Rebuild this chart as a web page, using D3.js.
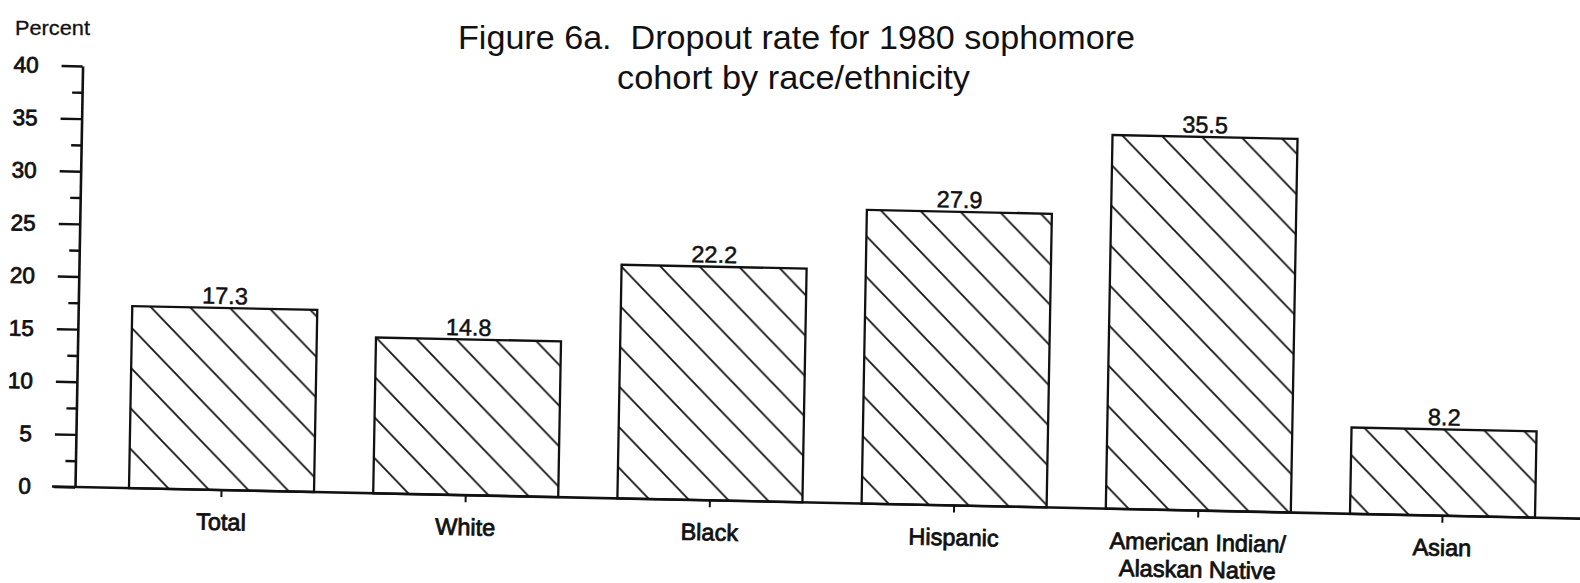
<!DOCTYPE html>
<html>
<head>
<meta charset="utf-8">
<script src="https://cdn.jsdelivr.net/npm/d3@7"></script>
<style>
  html, body { margin: 0; padding: 0; background: #fff; }
  svg { display: block; font-family: "Liberation Sans", Arial, Helvetica, sans-serif; }
  text { fill: #111; white-space: pre; }
</style>
</head>
<body>
<svg id="chart" width="1580" height="583"></svg>
<script>
// ---- data ----
const categories = ["Total", "White", "Black", "Hispanic", "American Indian/\nAlaskan Native", "Asian"];
const values = [17.3, 14.8, 22.2, 27.9, 35.5, 8.2];
const majorTicks = [0, 5, 10, 15, 20, 25, 30, 35, 40];
const minorTicks = [2.5, 7.5, 12.5, 17.5, 22.5, 27.5, 32.5, 37.5];
const titleLines = ["Figure 6a.  Dropout rate for 1980 sophomore", "cohort by race/ethnicity"];
const yAxisTitle = "Percent";

// ---- layout ----
const W = 1580, H = 583;
const svg = d3.select("#chart");
const ink = "#111";

// the scanned figure is slightly rotated/sheared; draw chart in a local frame
const tiltB = 0.021, tiltC = -0.018;
const g = svg.append("g")
  .attr("transform", `translate(75,487) matrix(1,${tiltB},${tiltC},1,0,0)`);

const y = d3.scaleLinear().domain([0, 40]).range([0, -421]);
const x = d3.scaleBand().domain(categories).range([54, 1460]).paddingInner(0.2424).paddingOuter(0);

// hatch pattern
const defs = svg.append("defs");
const pat = defs.append("pattern")
  .attr("id", "hatch")
  .attr("patternUnits", "userSpaceOnUse")
  .attr("width", 40).attr("height", 40)
  .attr("x", 14).attr("y", 0);
pat.append("rect").attr("width", 40).attr("height", 40).attr("fill", "#fff");
pat.append("path")
  .attr("d", "M0,0 L40,40 M-20,20 L20,60 M20,-20 L60,20")
  .attr("stroke", ink).attr("stroke-width", 1.8).attr("fill", "none");

// bars
g.selectAll("rect.bar")
  .data(categories)
  .join("rect")
  .attr("class", "bar")
  .attr("x", d => x(d))
  .attr("width", x.bandwidth())
  .attr("y", (d, i) => y(values[i]))
  .attr("height", (d, i) => y(0) - y(values[i]))
  .attr("fill", "url(#hatch)")
  .attr("stroke", ink)
  .attr("stroke-width", 2.3);

// value labels
g.selectAll("text.val")
  .data(categories)
  .join("text")
  .attr("class", "val")
  .attr("x", d => x(d) + x.bandwidth() / 2)
  .attr("y", (d, i) => y(values[i]) - 4)
  .attr("text-anchor", "middle")
  .attr("font-size", 23.5)
  .attr("stroke", ink).attr("stroke-width", 0.5)
  .text((d, i) => values[i].toFixed(1));

// y axis (major + minor ticks)
const yAxisMajor = d3.axisLeft(y).tickValues(majorTicks).tickSize(21).tickSizeOuter(0).tickPadding(23).tickFormat(d3.format("d"));
const yAxisMinor = d3.axisLeft(y).tickValues(minorTicks).tickSize(10).tickSizeOuter(0).tickFormat("");
const ya = g.append("g").call(yAxisMajor);
g.append("g").call(yAxisMinor).select(".domain").remove();
g.selectAll(".tick line").attr("stroke", ink).attr("stroke-width", 2.4);
ya.select(".domain").attr("stroke", ink).attr("stroke-width", 2.6);
ya.selectAll(".tick text")
  .attr("font-size", 22.5).attr("fill", ink)
  .attr("font-family", "'Liberation Sans', Arial, sans-serif")
  .attr("stroke", ink).attr("stroke-width", 0.8);

// baseline
g.append("line")
  .attr("x1", -23).attr("x2", 1530)
  .attr("y1", y(0)).attr("y2", y(0))
  .attr("stroke", ink).attr("stroke-width", 2.6);

// category ticks and labels
const xa = d3.axisBottom(x).tickSize(7).tickSizeOuter(0).tickPadding(10).tickFormat("");
const xg = g.append("g").attr("transform", `translate(0,${y(0)})`).call(xa);
xg.select(".domain").remove();
xg.selectAll(".tick line").attr("stroke", ink).attr("stroke-width", 2);

const labels = g.selectAll("text.cat")
  .data(categories)
  .join("text")
  .attr("class", "cat")
  .attr("text-anchor", "middle")
  .attr("font-size", 23.5)
  .attr("stroke", ink).attr("stroke-width", 0.8)
  .attr("transform", d => `translate(${x(d) + x.bandwidth() / 2},${y(0) + 40})`);
labels.selectAll("tspan")
  .data(d => d.split("\n"))
  .join("tspan")
  .attr("x", 0)
  .attr("dy", (d, i) => i === 0 ? 0 : 27)
  .text(d => d);

// y-axis title
svg.append("text")
  .attr("x", 15).attr("y", 35)
  .attr("font-size", 20)
  .attr("stroke", ink).attr("stroke-width", 0.3)
  .attr("textLength", 75).attr("lengthAdjust", "spacingAndGlyphs")
  .text(yAxisTitle);

// chart title
const titleX = [458, 617], titleY = [49, 89], titleLen = [677, 353];
svg.selectAll("text.title")
  .data(titleLines)
  .join("text")
  .attr("class", "title")
  .attr("x", (d, i) => titleX[i])
  .attr("y", (d, i) => titleY[i])
  .attr("font-size", 33)
  .attr("textLength", (d, i) => titleLen[i])
  .attr("lengthAdjust", "spacingAndGlyphs")
  .text(d => d);
</script>
</body>
</html>
